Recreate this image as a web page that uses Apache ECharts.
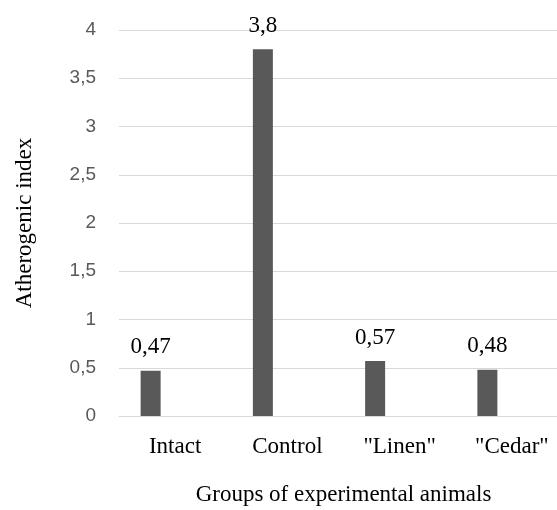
<!DOCTYPE html>
<html>
<head>
<meta charset="utf-8">
<script src="https://cdn.jsdelivr.net/npm/echarts@6/dist/echarts.min.js"></script>
<style>html,body{margin:0;padding:0;background:#fff}#c{width:557px;height:510px}</style>
</head>
<body>
<div id="c"></div>
<script>
const categories = ['Intact', 'Control', '"Linen"', '"Cedar"'];
const values = [0.47, 3.8, 0.57, 0.48];
const yTicks = [0, 0.5, 1, 1.5, 2, 2.5, 3, 3.5, 4];
const yTitle = 'Atherogenic index';
const xTitle = 'Groups of experimental animals';

const comma = v => String(v).replace('.', ',');
const serif = '"Liberation Serif", "Times New Roman", serif';

const chart = echarts.init(document.getElementById('c'), null, {renderer: 'canvas'});
chart.setOption({
  animation: false,
  grid: {left: 119, top: 30, width: 449, height: 386, containLabel: false, outerBoundsMode: 'none'},
  xAxis: {
    type: 'category',
    data: categories,
    axisLine: {show: true, lineStyle: {color: '#d9d9d9', width: 1}},
    axisTick: {show: false},
    axisLabel: {fontFamily: serif, fontSize: 23, color: '#000', margin: 19},
    name: xTitle,
    nameLocation: 'middle',
    nameGap: 67,
    nameTextStyle: {fontFamily: serif, fontSize: 23, color: '#000'}
  },
  yAxis: {
    type: 'value',
    min: yTicks[0],
    max: yTicks[yTicks.length - 1],
    interval: 0.5,
    axisLine: {show: false},
    axisTick: {show: false},
    splitLine: {lineStyle: {color: '#d9d9d9', width: 1}},
    axisLabel: {fontFamily: '"Liberation Sans", Arial, sans-serif', fontSize: 19, color: '#595959', margin: 23,
      formatter: v => comma(v)},
    name: yTitle,
    nameLocation: 'middle',
    nameGap: 83,
    nameRotate: 90,
    nameTextStyle: {fontFamily: serif, fontSize: 23, color: '#000'}
  },
  series: [
    {
      type: 'bar',
      data: values,
      barWidth: 20,
      barGap: '145%',
      itemStyle: {color: '#595959'},
      label: {show: true, position: 'top', distance: 12, fontFamily: serif, fontSize: 23, color: '#000',
        formatter: p => comma(p.value)}
    },
    {
      type: 'bar',
      data: categories.map(() => null),
      barWidth: 20,
      silent: true
    }
  ]
});
</script>
</body>
</html>
